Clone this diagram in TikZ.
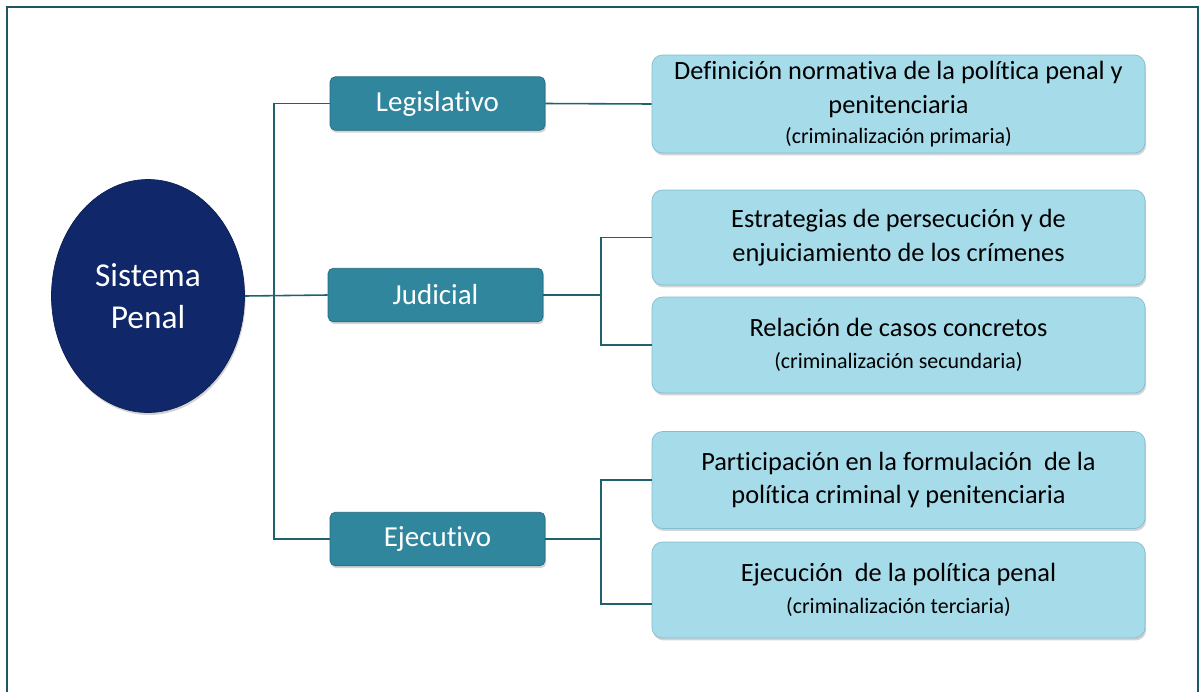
\documentclass[tikz,border=0pt]{standalone}
\usepackage{fontspec}
\setmainfont{Carlito}[Ligatures={NoCommon}]
\usetikzlibrary{shapes.geometric,shadows}
\definecolor{penNavy}{RGB}{16,40,106}
\definecolor{branchTeal}{RGB}{47,134,157}
\definecolor{leafBlue}{RGB}{166,219,233}
\definecolor{leafEdge}{RGB}{128,190,210}
\definecolor{lineTeal}{RGB}{30,98,110}
\begin{document}
\begin{tikzpicture}[rootStyle/.style={ellipse, fill=penNavy, draw=penNavy!80!black, text=white, minimum width=3.86cm, minimum height=4.66cm, inner sep=0pt, align=center, font=\fontsize{19}{24}\selectfont, drop shadow={shadow xshift=0.6pt, shadow yshift=-1.4pt, opacity=0.35}},
                    branchStyle/.style={rectangle, rounded corners=3pt, fill=branchTeal, draw=branchTeal!80!black, text=white, minimum width=4.3cm, minimum height=1.07cm, inner sep=0pt, font=\fontsize{16.5}{19}\selectfont, drop shadow={shadow xshift=0.6pt, shadow yshift=-1.4pt, opacity=0.35}},
                    leafStyle/.style={rectangle, rounded corners=6pt, fill=leafBlue, draw=leafEdge, text=black, minimum width=9.86cm, minimum height=1.92cm, inner sep=0pt, align=center, font=\fontsize{15}{19}\selectfont, drop shadow={shadow xshift=0.6pt, shadow yshift=-1.4pt, opacity=0.35}},
                    linkStyle/.style={draw=lineTeal, line width=0.9pt}]
                    \useasboundingbox (0, 0) rectangle (24.02, -13.82);
                    \draw[draw=lineTeal!90!black, line width=0.9pt] (0.14, -14) -- (0.14, -0.14) -- (23.96, -0.14) -- (23.96, -14);

                    \node[rootStyle](root) at (2.96, -5.92) {Sistema\\Penal};
                    \node[branchStyle](leg) at (8.75, -2.07) {Legislativo};
                    \node[branchStyle](jud) at (8.71, -5.9) {Judicial};
                    \node[branchStyle](eje) at (8.75, -10.78) {Ejecutivo};
                    \node[leafStyle, minimum height=1.96cm](def) at (17.97, -2.08) {Definición normativa de la política penal y\\penitenciaria\\[-2pt]{\fontsize{12.5}{15}\selectfont (criminalización primaria)}};
                    \node[leafStyle, minimum height=1.9cm](est) at (17.97, -4.75) {Estrategias de persecución y de\\enjuiciamiento de los crímenes};
                    \node[leafStyle](rel) at (17.97, -6.9) {Relación de casos concretos\\[-1pt]{\fontsize{12.5}{15}\selectfont (criminalización secundaria)}};
                    \node[leafStyle, minimum height=1.94cm](par) at (17.97, -9.6) {Participación en la formulación\ \ de la\\política criminal y penitenciaria};
                    \node[leafStyle](ejc) at (17.97, -11.8) {Ejecución\ \ de la política penal\\[-1pt]{\fontsize{12.5}{15}\selectfont (criminalización terciaria)}};

                    \coordinate (lbus) at (5.48, 0);
                    \coordinate (jbus) at (12.02, 0);
                    \coordinate (ejcin) at ([yshift=-0.28cm]ejc.west);

                    \draw[linkStyle] (root.east) -- (jud.west);
                    \draw[linkStyle] (leg.west) -- (leg.west -| lbus) -- (eje.west -| lbus) -- (eje.west);
                    \draw[linkStyle] (leg.east) -- (def.west);
                    \draw[linkStyle] (jud.east) -- (jud.east -| jbus);
                    \draw[linkStyle] (est.west) -- (est.west -| jbus) -- (rel.west -| jbus) -- (rel.west);
                    \draw[linkStyle] (eje.east) -- (eje.east -| jbus);
                    \draw[linkStyle] (par.west) -- (par.west -| jbus) -- (ejcin -| jbus) -- (ejcin);
                \end{tikzpicture}
\end{document}
